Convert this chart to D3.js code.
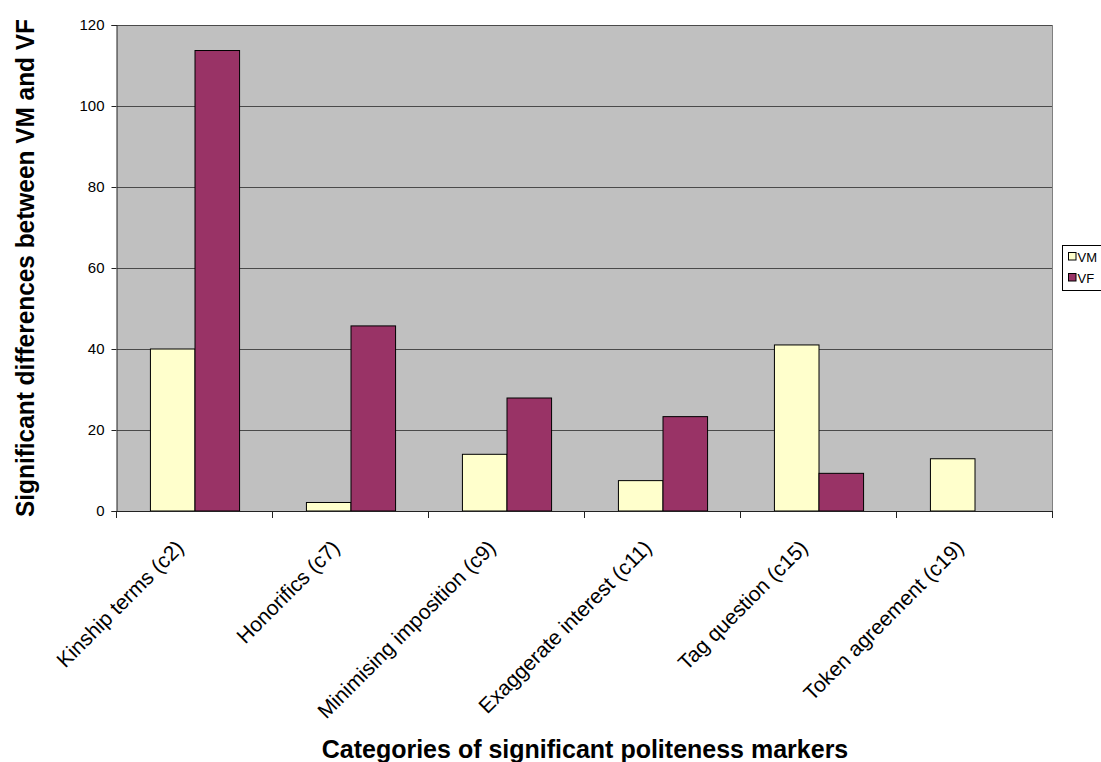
<!DOCTYPE html>
<html>
<head>
<meta charset="utf-8">
<script src="https://cdn.jsdelivr.net/npm/d3@7/dist/d3.min.js"></script>
<style>
  html, body { margin: 0; padding: 0; background: #fff; }
  svg { display: block; font-family: Arial, "Liberation Sans", sans-serif; }
</style>
</head>
<body>
<svg id="chart" width="1101" height="762"></svg>
<script>
// Politeness markers: counts for VM and VF per category
const categories = [
  "Kinship terms (c2)",
  "Honorifics (c7)",
  "Minimising imposition (c9)",
  "Exaggerate interest (c11)",
  "Tag question (c15)",
  "Token agreement (c19)"
];
const seriesNames = ["VM", "VF"];
const vmValues = [40, 2.1, 14, 7.5, 41, 12.9];
const vfValues = [113.7, 45.7, 27.9, 23.3, 9.3, 0];
const yTicks = [0, 20, 40, 60, 80, 100, 120];
const seriesColors = ["#ffffcc", "#993366"];

const svg = d3.select("#chart");
const plot = { left: 117, top: 25, right: 1053, bottom: 511 };

const x0 = d3.scaleBand()
  .domain(categories)
  .range([plot.left, plot.right])
  .paddingInner(0)
  .paddingOuter(0);

// Two bars per category, gap equals 1.5 bar widths split on both sides
const barW = x0.bandwidth() / 3.5;
const x1 = d3.scaleBand()
  .domain(seriesNames)
  .range([0.75 * barW, 2.75 * barW]);

const y = d3.scaleLinear().domain([0, 120]).range([plot.bottom, plot.top]);

// Plot area background
svg.append("rect")
  .attr("x", plot.left).attr("y", plot.top)
  .attr("width", plot.right - plot.left)
  .attr("height", plot.bottom - plot.top)
  .attr("fill", "#c0c0c0");

// Horizontal gridlines
svg.append("g")
  .selectAll("line")
  .data(yTicks.filter(d => d > 0))
  .join("line")
  .attr("x1", plot.left).attr("x2", plot.right)
  .attr("y1", d => Math.round(y(d)) + 0.5)
  .attr("y2", d => Math.round(y(d)) + 0.5)
  .attr("stroke", "#4a4a4a")
  .attr("stroke-width", 1);

// Right border of plot area
svg.append("line")
  .attr("x1", plot.right - 0.5).attr("x2", plot.right - 0.5)
  .attr("y1", plot.top).attr("y2", plot.bottom)
  .attr("stroke", "#808080");

// Bars
const rows = categories.map((c, i) => ({ cat: c, values: [vmValues[i], vfValues[i]] }));
const groups = svg.append("g")
  .selectAll("g")
  .data(rows)
  .join("g")
  .attr("transform", d => `translate(${x0(d.cat)},0)`);

groups.selectAll("rect")
  .data(d => d.values.map((v, k) => ({ key: seriesNames[k], value: v, k })))
  .join("rect")
  .filter(d => d.value > 0)
  .attr("x", d => x1(d.key))
  .attr("y", d => y(d.value))
  .attr("width", x1.bandwidth())
  .attr("height", d => y(0) - y(d.value))
  .attr("fill", d => seriesColors[d.k])
  .attr("stroke", "#000")
  .attr("stroke-width", 1);

// Y axis
const yAxis = d3.axisLeft(y)
  .tickValues(yTicks)
  .tickSize(5)
  .tickPadding(7)
  .tickFormat(d3.format("d"));
const gy = svg.append("g")
  .attr("transform", `translate(${plot.left - 0.5},0)`)
  .call(yAxis);
gy.select(".domain").attr("stroke", "#222");
gy.selectAll(".tick line").attr("stroke", "#222");
gy.selectAll(".tick text").attr("font-size", 15).attr("fill", "#000")
  .attr("font-family", "Arial, 'Liberation Sans', sans-serif");

// X axis baseline and category separators
svg.append("line")
  .attr("x1", plot.left).attr("x2", plot.right)
  .attr("y1", plot.bottom + 0.5).attr("y2", plot.bottom + 0.5)
  .attr("stroke", "#222");

const sepPos = d3.range(categories.length + 1).map(i => plot.left + i * x0.step());
svg.append("g")
  .selectAll("line")
  .data(sepPos)
  .join("line")
  .attr("x1", d => Math.round(d) - 0.5).attr("x2", d => Math.round(d) - 0.5)
  .attr("y1", plot.bottom).attr("y2", plot.bottom + 7)
  .attr("stroke", "#222");

// Rotated category labels
svg.append("g")
  .selectAll("text")
  .data(categories)
  .join("text")
  .attr("transform", d => `translate(${x0(d) + x0.bandwidth() / 2 - 10},${plot.bottom + 38}) rotate(-45)`)
  .attr("text-anchor", "end")
  .attr("font-size", 21)
  .attr("fill", "#000")
  .text(d => d);

// Axis titles
svg.append("text")
  .attr("x", (plot.left + plot.right) / 2)
  .attr("y", 758)
  .attr("text-anchor", "middle")
  .attr("font-size", 25)
  .attr("font-weight", "bold")
  .text("Categories of significant politeness markers");

svg.append("text")
  .attr("transform", `translate(34,${(plot.top + plot.bottom) / 2}) rotate(-90)`)
  .attr("text-anchor", "middle")
  .attr("font-size", 25)
  .attr("font-weight", "bold")
  .attr("textLength", 498)
  .attr("lengthAdjust", "spacingAndGlyphs")
  .text("Significant differences between VM and VF");

// Legend
const legend = svg.append("g").attr("transform", "translate(1062.5,245.5)");
legend.append("rect")
  .attr("width", 60).attr("height", 45)
  .attr("fill", "#fff").attr("stroke", "#000");
const li = legend.selectAll("g")
  .data(seriesNames)
  .join("g")
  .attr("transform", (d, i) => `translate(6,${7 + i * 21})`);
li.append("rect")
  .attr("width", 7.5).attr("height", 7.5)
  .attr("fill", (d, i) => seriesColors[i])
  .attr("stroke", "#000");
li.append("text")
  .attr("x", 9).attr("y", 9.5)
  .attr("font-size", 13)
  .text(d => d);
</script>
</body>
</html>
